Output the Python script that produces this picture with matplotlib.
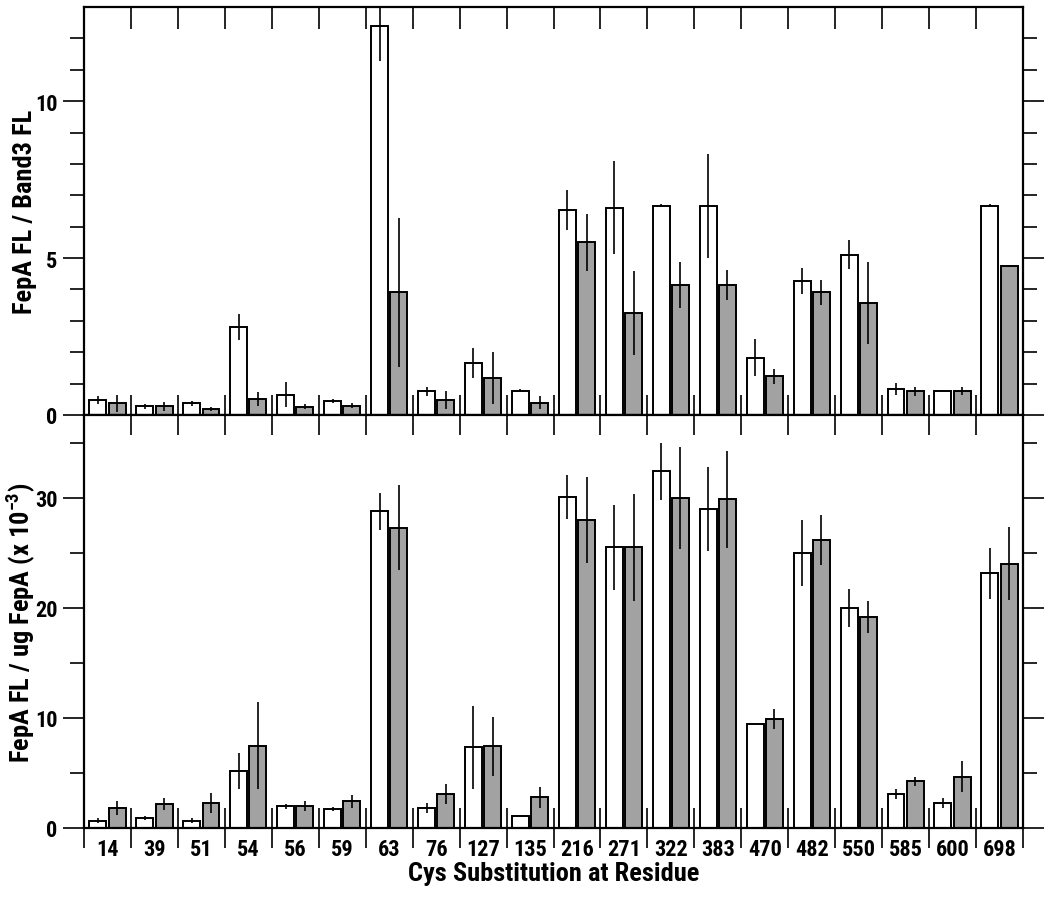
import numpy as np
import matplotlib
matplotlib.use("Agg")
import matplotlib.pyplot as plt
from matplotlib.ticker import FixedLocator, NullFormatter

plt.rcParams['font.family'] = ['Liberation Sans Narrow', 'Roboto Condensed', 'DejaVu Sans']
plt.rcParams['font.stretch'] = 'condensed'
plt.rcParams['font.weight'] = 'bold'
plt.rcParams['mathtext.default'] = 'regular'

residues = ["14", "39", "51", "54", "56", "59", "63", "76", "127", "135",
            "216", "271", "322", "383", "470", "482", "550", "585", "600", "698"]

# top panel: FepA FL / Band3 FL
band3_white = [0.48, 0.28, 0.37, 2.81, 0.64, 0.44, 12.4, 0.75, 1.66, 0.77,
               6.54, 6.60, 6.67, 6.67, 1.83, 4.26, 5.11, 0.83, 0.75, 6.67]
band3_white_err = [0.13, 0.08, 0.08, 0.42, 0.40, 0.06, 1.12, 0.15, 0.48, 0.05,
                   0.63, 1.48, 0.05, 1.66, 0.59, 0.42, 0.47, 0.19, 0.0, 0.05]
band3_gray = [0.37, 0.28, 0.19, 0.51, 0.27, 0.30, 3.91, 0.48, 1.18, 0.39,
              5.50, 3.24, 4.14, 4.14, 1.23, 3.91, 3.57, 0.75, 0.77, 4.76]
band3_gray_err = [0.28, 0.15, 0.05, 0.22, 0.08, 0.07, 2.37, 0.30, 0.82, 0.20,
                  0.91, 1.34, 0.72, 0.49, 0.24, 0.39, 1.30, 0.15, 0.13, 0.03]

# bottom panel: FepA FL / ug FepA (x 10^-3)
ug_white = [0.67, 0.91, 0.67, 5.2, 1.97, 1.75, 28.74, 1.82, 7.32, 1.12,
            30.05, 25.48, 32.38, 28.96, 9.41, 24.99, 19.97, 3.09, 2.24, 23.12]
ug_white_err = [0.2, 0.2, 0.2, 1.62, 0.2, 0.2, 1.68, 0.45, 3.78, 0.1,
                1.97, 3.86, 2.56, 3.81, 0.0, 2.98, 1.74, 0.45, 0.45, 2.3]
ug_gray = [1.82, 2.15, 2.27, 7.47, 2.03, 2.42, 27.26, 3.09, 7.41, 2.78,
           27.99, 25.48, 29.92, 29.83, 9.89, 26.14, 19.18, 4.24, 4.66, 23.99]
ug_gray_err = [0.65, 0.56, 0.9, 3.93, 0.45, 0.6, 3.84, 0.95, 2.65, 0.98,
               3.89, 4.83, 4.63, 4.39, 0.88, 2.27, 1.47, 0.41, 1.39, 3.33]

W, H = 1050, 904
fig = plt.figure(figsize=(W / 100, H / 100), dpi=100)
left, right = 84, 1023
ax1 = fig.add_axes([left / W, 1 - 416 / H, (right - left) / W, (416 - 8) / H])
ax2 = fig.add_axes([left / W, 1 - 829 / H, (right - left) / W, (829 - 416) / H])

x = np.arange(len(residues))
bw = 0.36
GRAY = "#a2a2a2"

def draw(ax, wv, we, gv, ge):
    ax.bar(x + 0.295, wv, bw, color="white", edgecolor="black", linewidth=1.4, zorder=2)
    ax.bar(x + 0.705, gv, bw, color=GRAY, edgecolor="black", linewidth=1.4, zorder=2)
    ax.errorbar(x + 0.295, wv, yerr=we, fmt="none", ecolor="black", elinewidth=1.2,
                capsize=0, zorder=3)
    ax.errorbar(x + 0.705, gv, yerr=ge, fmt="none", ecolor="black", elinewidth=1.2,
                capsize=0, zorder=3)
    ax.set_xlim(0, len(residues))
    for s in ax.spines.values():
        s.set_linewidth(1.6)
    ax.xaxis.set_major_locator(FixedLocator(x + 0.5))
    ax.xaxis.set_minor_locator(FixedLocator(np.arange(len(residues) + 1)))
    ax.xaxis.set_minor_formatter(NullFormatter())
    ax.tick_params(axis="x", which="major", length=0)
    ax.tick_params(axis="y", which="major", direction="out", length=15, width=1.2,
                   left=True, right=True, labelsize=16, pad=4)
    ax.tick_params(axis="y", which="minor", direction="out", length=10, width=1.2,
                   left=True, right=True)

draw(ax1, band3_white, band3_white_err, band3_gray, band3_gray_err)
draw(ax2, ug_white, ug_white_err, ug_gray, ug_gray_err)

ax1.set_ylim(0, 13)
ax1.yaxis.set_major_locator(FixedLocator([0, 5, 10]))
ax1.yaxis.set_minor_locator(FixedLocator([1, 2, 3, 4, 6, 7, 8, 9, 11, 12]))
ax1.set_xticklabels([])
ax1.tick_params(axis="x", which="minor", direction="in", length=16, width=1.2,
                top=True, bottom=False)

ax2.set_ylim(0, 37.5)
ax2.yaxis.set_major_locator(FixedLocator([0, 10, 20, 30]))
ax2.yaxis.set_minor_locator(FixedLocator([5, 15, 25, 35]))
ax2.set_xticklabels(residues)
ax2.tick_params(axis="x", which="major", labelsize=16, pad=7)
ax2.tick_params(axis="x", which="minor", direction="inout", length=29, width=1.2,
                top=True, bottom=True)

ax1.set_ylabel("FepA FL / Band3 FL", fontsize=19, fontweight="bold")
ax2.set_ylabel(r"FepA FL / ug FepA (x 10$^{-3}$)", fontsize=19, fontweight="bold")
ax1.yaxis.set_label_coords(-0.050, 0.5)
ax2.yaxis.set_label_coords(-0.050, 0.5)
ax2.set_xlabel("Cys Substitution at Residue", fontsize=19, fontweight="bold", labelpad=1)

fig.savefig("out.png", dpi=100)
